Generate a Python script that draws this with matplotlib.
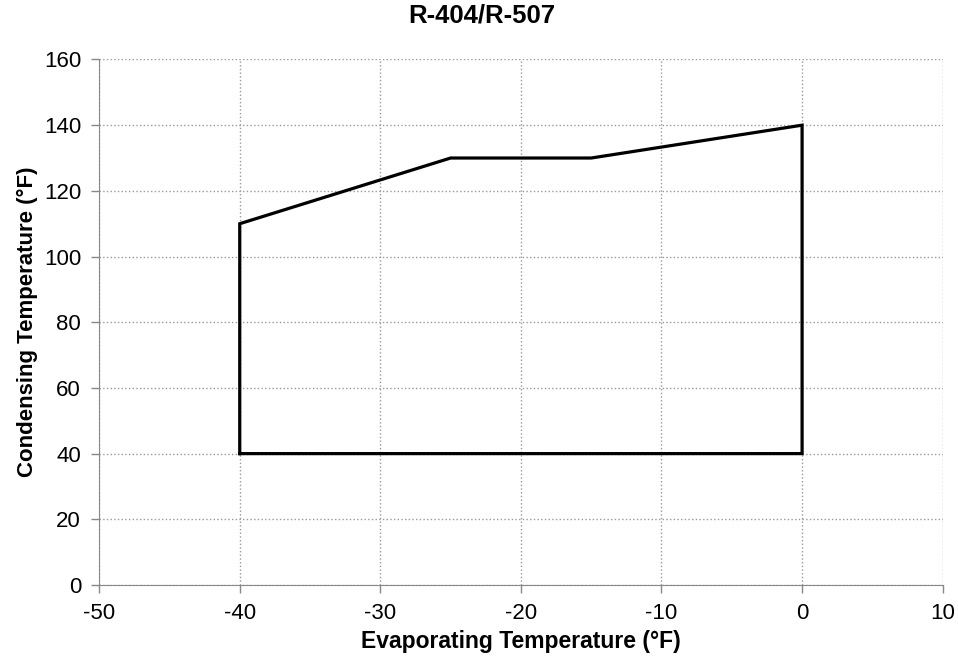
import numpy as np
import matplotlib.pyplot as plt

plt.rcParams['font.family'] = ['Liberation Sans', 'DejaVu Sans']
plt.rcParams['axes.unicode_minus'] = False

# operating envelope (closed polygon)
evap = [-40, -40, -25, -15, 0, 0, -40]
cond = [40, 110, 130, 130, 140, 40, 40]

xticks = [-50, -40, -30, -20, -10, 0, 10]
yticks = [0, 20, 40, 60, 80, 100, 120, 140, 160]

fig = plt.figure(figsize=(9.58, 6.61), dpi=100)
ax = fig.add_axes([0.1035, 0.115, 0.8805, 0.795])

ax.plot(evap, cond, color='black', lw=2.3, solid_joinstyle='miter', zorder=3)

ax.set_xlim(-50, 10)
ax.set_ylim(0, 160)
ax.set_xticks(xticks)
ax.set_yticks(yticks)
ax.grid(True, color='#999999', ls=':', lw=1.0)

for s in ['top', 'right']:
  ax.spines[s].set_visible(False)
for s in ['left', 'bottom']:
  ax.spines[s].set_color('#888888')
ax.tick_params(colors='#888888', labelcolor='black', labelsize=16, length=6, width=1)
ax.tick_params(axis='x', pad=7)
ax.tick_params(axis='y', pad=7)

ax.set_xlabel('Evaporating Temperature (°F)', fontsize=16.5, fontweight='bold', labelpad=4)
ax.set_ylabel('Condensing Temperature (°F)', fontsize=16, fontweight='bold', labelpad=4)
fig.text(0.503, 0.977, 'R-404/R-507', ha='center', va='center', fontsize=18.5, fontweight='bold')

fig.savefig('out.png', dpi=100)
